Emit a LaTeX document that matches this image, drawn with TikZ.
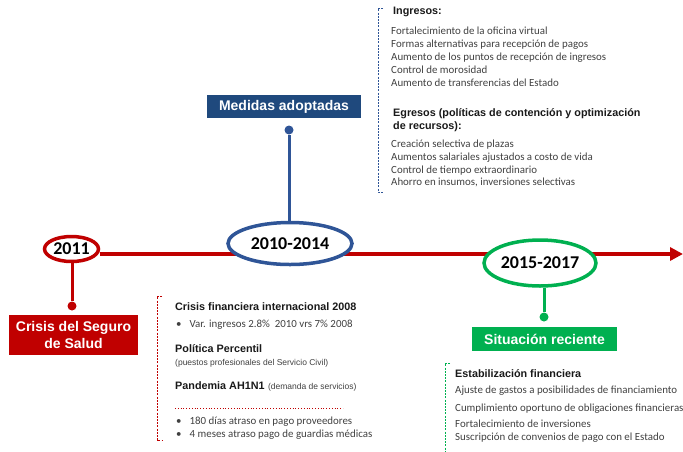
\documentclass[tikz,border=0pt]{standalone}
\usepackage{fontspec}
\setmainfont{Carlito}
\newfontfamily\arial{Liberation Sans}
\usetikzlibrary{arrows.meta,backgrounds,shapes.geometric}
\definecolor{tlred}{RGB}{192,0,0}
\definecolor{tlblue}{RGB}{47,85,151}
\definecolor{boxblue}{RGB}{31,73,125}
\definecolor{tlgreen}{RGB}{0,176,80}
\definecolor{txt}{RGB}{64,64,64}
\definecolor{hd}{RGB}{25,25,25}
\begin{document}
\begin{tikzpicture}[x=1pt,y=-1pt,
  yearell/.style={ellipse, draw=#1, line width=3.5pt, fill=white, inner sep=0pt,
    font=\bfseries\fontsize{18}{20}\selectfont, text=black},
  stem/.style={draw=#1, line width=3pt},
  dot/.style={circle, fill=#1, inner sep=0pt, minimum size=9pt},
  labbox/.style={fill=#1, text=white, inner sep=0pt, align=center,
    font=\arial\bfseries\fontsize{14}{17}\selectfont},
  item/.style={anchor=west, inner sep=0pt, text=txt, text height=7pt, text depth=2pt,
    font=\fontsize{10.9}{13}\selectfont},
  head/.style={anchor=west, inner sep=0pt, text=hd, text height=7.5pt, text depth=2pt,
    font=\arial\bfseries\fontsize{10.8}{13}\selectfont},
  small/.style={anchor=west, inner sep=0pt, text=txt, text height=6pt, text depth=1.5pt,
    font=\arial\fontsize{8.5}{10}\selectfont},
  bracket/.style={draw=#1, line width=0.8pt, dash pattern=on 2pt off 1.2pt}
]
\useasboundingbox (0,0) rectangle (683,451);

% year ellipses
\node[yearell=tlred, minimum width=54pt, minimum height=25pt] (e1) at (71.5,249) {2011};
\node[yearell=tlblue, minimum width=124pt, minimum height=42pt] (e2) at (290,243.5) {2010-2014};
\node[yearell=tlgreen, minimum width=112pt, minimum height=46pt] (e3) at (540,263) {2015-2017};
\coordinate (tlend) at (683,254);

\begin{pgfonlayer}{background}
\draw[tlred, line width=4pt, -{Triangle[length=13pt,width=13pt]}] (e1.east |- tlend) -- (tlend);
\end{pgfonlayer}

% dots and label boxes
\node[dot=tlred] (d1) at (72,306) {};
\node[labbox=tlred, minimum width=129pt, minimum height=40pt] (b1) at (73.5,335) {Crisis del Seguro\\de Salud};
\draw[stem=tlred] (e1.south -| d1) -- (d1);

\node[dot=tlblue] (d2) at (289,130) {};
\node[labbox=boxblue, minimum width=154pt, minimum height=23pt] (b2) at (284,106.5) {Medidas adoptadas};
\draw[stem=tlblue] (e2.north -| d2) -- (d2);

\node[dot=tlgreen] (d3) at (544,317) {};
\node[labbox=tlgreen, minimum width=145pt, minimum height=24pt] (b3) at (544.5,339) {Situación reciente};
\draw[stem=tlgreen] (e3.south -| d3) -- (d3);

% top-right block
\draw[bracket=tlblue] (383,8) -- (378,8) -- (378,192) -- (383,192);
\node[head] (t0) at (393,12) {Ingresos:};
\node[item] (t1) at (391,32) {Fortalecimiento de la oficina virtual};
\node[item] (t2) at (391,44.5) {Formas alternativas para recepción de pagos};
\node[item] (t3) at (391,57.5) {Aumento de los puntos de recepción de ingresos};
\node[item] (t4) at (391,71) {Control de morosidad};
\node[item] (t5) at (391,84) {Aumento de transferencias del Estado};
\node[head] (t6) at (393,113.5) {Egresos (políticas de contención y optimización};
\node[head] (t7) at (393,127) {de recursos):};
\node[item] (t8) at (391,145) {Creación selectiva de plazas};
\node[item] (t9) at (391,157.5) {Aumentos salariales ajustados a costo de vida};
\node[item] (t10) at (391,170.5) {Control de tiempo extraordinario};
\node[item] (t11) at (391,183) {Ahorro en insumos, inversiones selectivas};

% bottom-middle block
\draw[bracket=tlred] (162,296) -- (157,296) -- (157,440) -- (162,440);
\node[head] (m1) at (175,308) {Crisis financiera internacional 2008};
\node[item] (m2) at (176,325) {\textbullet\hspace{8pt}Var. ingresos 2.8\%\ \ 2010 vrs 7\% 2008};
\node[head] (m3) at (175,350) {Política Percentil};
\node[small] (m4) at (175,363) {(puestos profesionales del Servicio Civil)};
\node[head] (m5) at (175,387) {Pandemia AH1N1};
\node[small] (m6) at (m5.east) [anchor=west, xshift=3pt] {(demanda de servicios)};
\coordinate (sepa) at (175,408);
\coordinate (sepb) at (343,408);
\draw[tlred, dotted, line width=0.8pt] (sepa) -- (sepb);
\node[item] (m7) at (176,422) {\textbullet\hspace{8pt}180 días atraso en pago proveedores};
\node[item] (m8) at (176,434.5) {\textbullet\hspace{8pt}4 meses atraso pago de guardias médicas};

% bottom-right block
\draw[bracket=tlgreen] (450,363) -- (445,363) -- (445,451);
\node[head] (r1) at (455,375) {Estabilización financiera};
\node[item] (r2) at (455,391) {Ajuste de gastos a posibilidades de financiamiento};
\node[item] (r3) at (455,408.5) {Cumplimiento oportuno de obligaciones financieras};
\node[item] (r4) at (455,425) {Fortalecimiento de inversiones};
\node[item] (r5) at (455,438) {Suscripción de convenios de pago con el Estado};
\end{tikzpicture}
\end{document}
